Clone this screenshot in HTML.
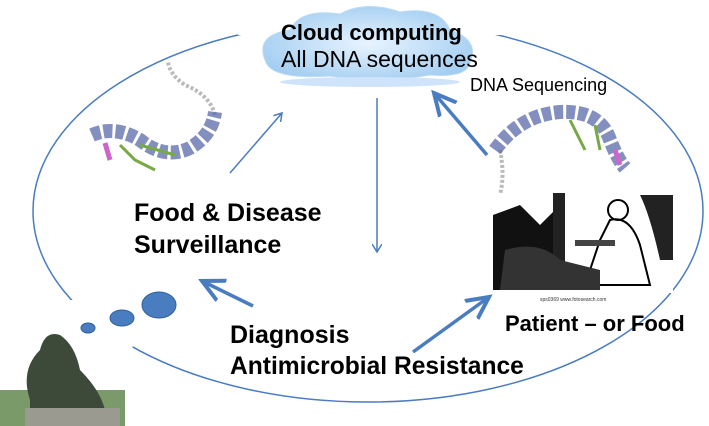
<!DOCTYPE html>
<html><head><style>
body{margin:0;width:709px;height:426px;background:#fff;overflow:hidden;position:relative;font-family:"Liberation Sans",sans-serif}
.t{position:absolute;color:#000;white-space:nowrap;line-height:1}
</style></head><body>
<svg width="709" height="426" style="position:absolute;left:0;top:0">
<defs>
<radialGradient id="cg" cx="50%" cy="50%" r="60%"><stop offset="0" stop-color="#e8f4ff"/><stop offset="1" stop-color="#9fcbf0"/></radialGradient>
<marker id="a" markerWidth="10" markerHeight="10" refX="8" refY="5" orient="auto" markerUnits="userSpaceOnUse"><path d="M0,0 L8,5 L0,10" fill="none" stroke="#4a7cc0" stroke-width="1.5"/></marker>
<marker id="b" markerWidth="26" markerHeight="26" refX="22" refY="13" orient="auto" markerUnits="userSpaceOnUse"><path d="M0,2 L22,13 L0,24" fill="none" stroke="#4a7cc0" stroke-width="4"/></marker>
</defs>
<ellipse cx="368" cy="211" rx="335" ry="191" fill="none" stroke="#4a7cc0" stroke-width="1.5"/>
<rect x="238" y="5" width="264" height="30" fill="#fff"/>
<path d="M60,300 L95,300 L135,335 L130,360 L60,360Z" fill="#fff"/>
<path d="M265,60 Q255,35 290,30 Q300,8 340,14 Q365,0 400,12 Q440,6 450,30 Q480,40 470,62 Q468,78 430,75 Q380,84 330,76 Q270,80 265,60Z" fill="url(#cg)" stroke="#bcdcf5"/>
<ellipse cx="370" cy="82" rx="90" ry="5" fill="#cfe3fa"/>
<line x1="230" y1="173" x2="282" y2="113" stroke="#4a7cc0" stroke-width="1.5" marker-end="url(#a)"/>
<line x1="377" y1="98" x2="377" y2="252" stroke="#4a7cc0" stroke-width="1.5" marker-end="url(#a)"/>
<line x1="487" y1="155" x2="434" y2="93" stroke="#4a7cc0" stroke-width="3.5" marker-end="url(#b)"/>
<line x1="253" y1="306" x2="202" y2="281" stroke="#4a7cc0" stroke-width="3.5" marker-end="url(#b)"/>
<line x1="413" y1="352" x2="489" y2="297" stroke="#4a7cc0" stroke-width="3.5" marker-end="url(#b)"/>
<ellipse cx="159" cy="305" rx="17" ry="13" fill="#4a7cc0" stroke="#2f5f9e"/>
<ellipse cx="122" cy="318" rx="12" ry="8" fill="#4a7cc0" stroke="#2f5f9e"/>
<ellipse cx="88" cy="328" rx="7" ry="5" fill="#4a7cc0" stroke="#2f5f9e"/>
<!-- DNA left -->
<path d="M215,115 Q210,95 185,85 Q170,75 168,62" fill="none" stroke="#bbb" stroke-width="4" stroke-dasharray="3 2"/>
<path d="M92,135 Q115,125 140,140 Q165,160 190,148 Q212,135 215,112" fill="none" stroke="#5a6aa8" stroke-width="14" stroke-dasharray="9 3" opacity="0.75"/>
<path d="M120,145 L135,160 L155,170 M140,145 L175,155" fill="none" stroke="#7a4" stroke-width="3"/>
<path d="M105,143 L110,160" stroke="#c6c" stroke-width="5"/>
<!-- DNA right -->
<path d="M500,150 Q505,175 500,195" fill="none" stroke="#bbb" stroke-width="4" stroke-dasharray="3 2"/>
<path d="M495,150 Q520,115 560,112 Q600,110 610,140 Q618,160 625,168" fill="none" stroke="#5a6aa8" stroke-width="14" stroke-dasharray="9 3" opacity="0.75"/>
<path d="M570,120 L585,150 M595,125 L600,150" stroke="#7a4" stroke-width="3"/>
<path d="M615,150 L620,165" stroke="#c6c" stroke-width="5"/>
<!-- patient picture -->
<rect x="493" y="193" width="180" height="100" fill="#fff"/>
<path d="M493,215 L520,205 L540,225 L555,210 L555,290 L493,290Z" fill="#111"/>
<rect x="553" y="193" width="12" height="95" fill="#222"/>
<path d="M640,195 L673,195 L673,260 L660,260 Q650,215 640,195Z" fill="#222"/>
<path d="M610,220 Q630,215 640,245 L650,285 L585,285 L600,240Z" fill="none" stroke="#000" stroke-width="2"/>
<circle cx="618" cy="210" r="10" fill="none" stroke="#000" stroke-width="2"/>
<path d="M505,250 Q540,240 560,260 L600,270 L600,290 L500,290Z" fill="#333"/>
<rect x="575" y="240" width="40" height="6" fill="#444"/>
<text x="540" y="301" font-size="5" fill="#333" font-family="Liberation Sans">sps0369 www.fotosearch.com</text>
<!-- statue -->
<rect x="0" y="390" width="125" height="36" fill="#7a9a6a"/>
<path d="M30,426 L30,400 Q20,370 40,350 Q45,330 60,335 Q75,345 80,370 Q100,390 105,410 L110,426Z" fill="#3d4a3a"/>
<rect x="25" y="408" width="95" height="18" fill="#9a9a90"/>
</svg>
<div class="t" style="left:281px;top:22px;font-size:22px;font-weight:bold">Cloud computing</div>
<div class="t" style="left:281px;top:48px;font-size:23px">All DNA sequences</div>
<div class="t" style="left:470px;top:76px;font-size:18px">DNA Sequencing</div>
<div class="t" style="left:134px;top:201px;font-size:25px;font-weight:bold">Food &amp; Disease</div>
<div class="t" style="left:134px;top:233px;font-size:25px;font-weight:bold">Surveillance</div>
<div class="t" style="left:230px;top:323px;font-size:25px;font-weight:bold">Diagnosis</div>
<div class="t" style="left:230px;top:355px;font-size:24.6px;font-weight:bold">Antimicrobial Resistance</div>
<div class="t" style="left:505px;top:313px;font-size:22px;font-weight:bold">Patient – or Food</div>
</body></html>
